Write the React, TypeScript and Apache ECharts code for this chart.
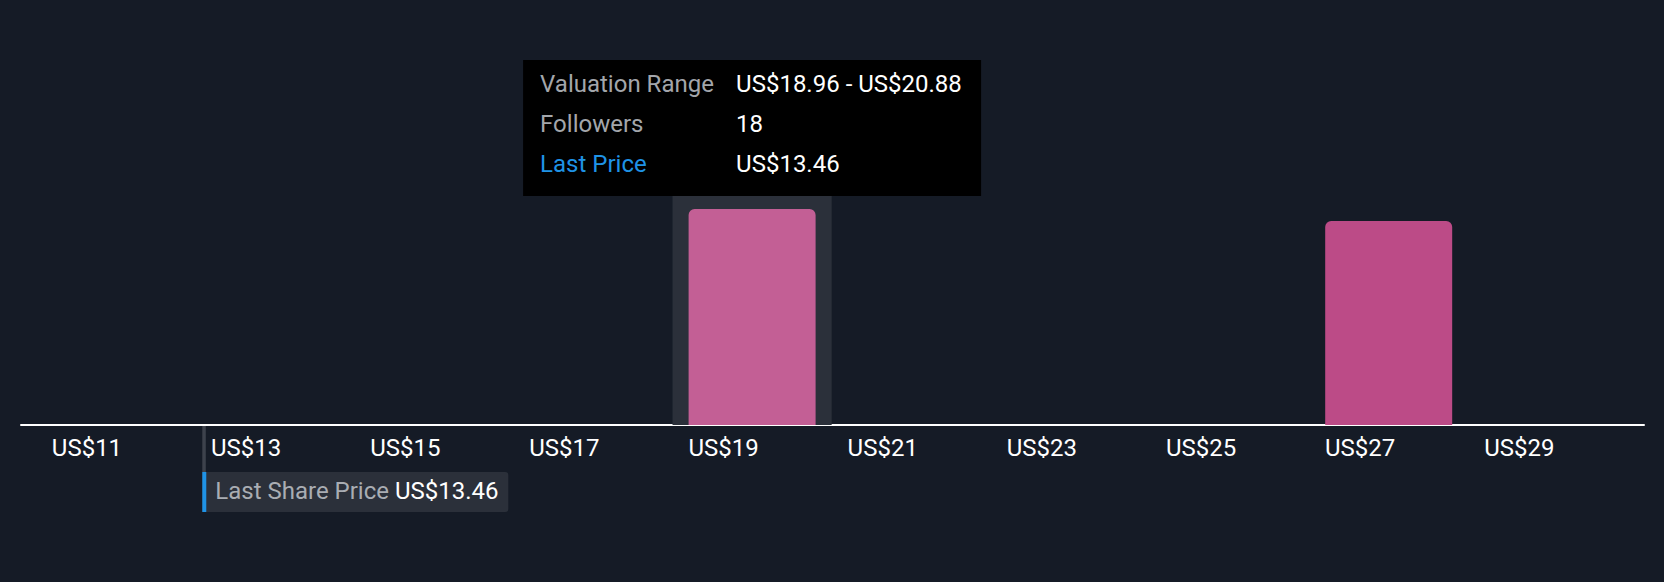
import React, { useEffect, useRef } from "react";
import * as echarts from "echarts";

// ---- data ----
const binStarts = [11.28, 13.2, 15.12, 17.04, 18.96, 20.88, 22.8, 24.72, 26.64, 28.56];
const binWidth = 1.92;
const tickLabels = ["US$11", "US$13", "US$15", "US$17", "US$19", "US$21", "US$23", "US$25", "US$27", "US$29"];
const followers = [0, 0, 0, 0, 18, 0, 0, 0, 17, 0];
const lastPrice = 13.46;
const hoveredBin = 4;

const BG = "#151b26";
const FONT = "Roboto";
const FS = 24;

export default function App() {
  const ref = useRef<HTMLDivElement>(null);

  useEffect(() => {
    if (!ref.current) return;
    const chart = echarts.init(ref.current, null, { renderer: "svg" });
    const labelValues = binStarts.map((s) => s + binWidth * 0.1);
    const hs = binStarts[hoveredBin];
    const he = +(hs + binWidth).toFixed(2);
    const priceMin = binStarts[0];
    const priceMax = +(binStarts[binStarts.length - 1] + binWidth).toFixed(2);

    chart.setOption({
      animation: false,
      backgroundColor: BG,
      textStyle: { fontFamily: FONT },
      grid: { left: 21, right: 20, top: 185, bottom: 157, containLabel: false },
      xAxis: [
        {
          type: "value",
          min: 11.1,
          max: 30.68,
          splitLine: { show: false },
          axisTick: { show: false },
          axisLine: { show: true, onZero: false, lineStyle: { color: "#ffffff", width: 2 } },
          axisLabel: {
            customValues: labelValues,
            color: "#ffffff",
            fontSize: FS,
            fontFamily: FONT,
            align: "left",
            verticalAlign: "middle",
            margin: 23,
            formatter: (v: number) => {
              const i = labelValues.findIndex((x) => Math.abs(x - v) < 1e-6);
              return i >= 0 ? tickLabels[i] : "";
            },
          },
        },
        {
          // price scale spanning the full range of bins
          type: "value",
          min: priceMin,
          max: priceMax,
          show: false,
          position: "bottom",
        },
      ],
      yAxis: { type: "value", min: 0, max: 20, show: false, splitLine: { show: false } },
      series: [
        {
          type: "bar",
          barWidth: 127,
          z: 3,
          xAxisIndex: 0,
          data: binStarts.map((s, i) => ({
            value: [s + binWidth / 2, followers[i]],
            itemStyle: { color: i === hoveredBin ? "#c35f95" : "#bc4b87", borderRadius: [6, 6, 0, 0] },
          })),
          markArea: {
            silent: true,
            z: 1,
            itemStyle: { color: "#2b303a" },
            label: { show: false },
            data: [[{ xAxis: hs }, { xAxis: he }]],
          },
        },
      ],
    });

    const px = chart.convertToPixel({ xAxisIndex: 1 }, lastPrice) as number;
    const cx = chart.convertToPixel({ xAxisIndex: 0 }, hs + binWidth / 2) as number;
    const tipW = 458;
    const tx = cx - tipW / 2;
    const Z = 100;
    const font = `${FS}px ${FONT}`;

    chart.setOption({
      graphic: [
        {
          type: "group",
          x: tx,
          y: 60,
          z: Z,
          children: [
            { type: "rect", z: Z, shape: { x: 0, y: 0, width: tipW, height: 136 }, style: { fill: "#000000" } },
            { type: "text", z: Z + 1, x: 17, y: 23.5, style: { text: "Valuation Range", fill: "#a3a6ab", font, verticalAlign: "middle" } },
            { type: "text", z: Z + 1, x: 213, y: 23.5, style: { text: `US$${hs.toFixed(2)} - US$${he.toFixed(2)}`, fill: "#ffffff", font, verticalAlign: "middle" } },
            { type: "text", z: Z + 1, x: 17, y: 63.5, style: { text: "Followers", fill: "#a3a6ab", font, verticalAlign: "middle" } },
            { type: "text", z: Z + 1, x: 213, y: 63.5, style: { text: String(followers[hoveredBin]), fill: "#ffffff", font, verticalAlign: "middle" } },
            { type: "text", z: Z + 1, x: 17, y: 103.5, style: { text: "Last Price", fill: "#1f93e6", font, verticalAlign: "middle" } },
            { type: "text", z: Z + 1, x: 213, y: 103.5, style: { text: `US$${lastPrice.toFixed(2)}`, fill: "#ffffff", font, verticalAlign: "middle" } },
          ],
        },
        {
          type: "group",
          x: px - 3,
          y: 426,
          z: Z,
          children: [
            { type: "rect", z: Z, shape: { x: 0, y: 0, width: 3.5, height: 46 }, style: { fill: "#3d424c" } },
            { type: "rect", z: Z, shape: { x: 0, y: 46, width: 306, height: 40, r: [0, 3, 3, 0] }, style: { fill: "#2b303a" } },
            { type: "rect", z: Z + 1, shape: { x: 0, y: 46, width: 4, height: 40 }, style: { fill: "#1f93e6" } },
            {
              type: "text",
              z: Z + 2,
              x: 13,
              y: 64.5,
              style: {
                text: `{a|Last Share Price} {b|US$${lastPrice.toFixed(2)}}`,
                verticalAlign: "middle",
                font,
                rich: {
                  a: { fill: "#a9adb3", fontSize: FS, fontFamily: FONT },
                  b: { fill: "#ffffff", fontSize: FS, fontFamily: FONT },
                },
              },
            },
          ],
        },
      ],
    });

    return () => chart.dispose();
  }, []);

  return (
    <div
      ref={ref}
      style={{ position: "fixed", left: 0, top: 0, width: 1664, height: 582, background: BG }}
    />
  );
}
